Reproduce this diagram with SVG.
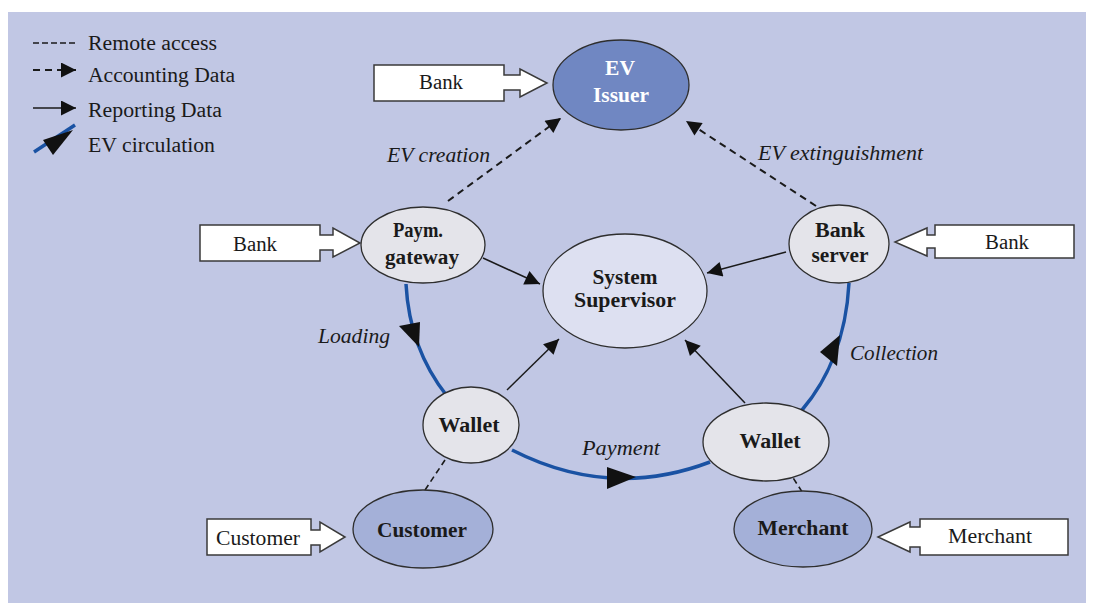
<svg xmlns="http://www.w3.org/2000/svg" width="1093" height="603" viewBox="0 0 1093 603">
  <defs>
    <style>
      text { font-family: 'Liberation Serif', 'DejaVu Serif', serif; font-size: 20px; fill: #1a1a1a; }
      .box { fill: #ffffff; stroke: #3a3a3a; stroke-width: 1.5; }
      .mid { text-anchor: middle; }
      .node { stroke: #2e2e2e; stroke-width: 1.3; }
      .gray { fill: #e4e4ea; }
      .sup { fill: #dde0f1; }
      .issuer { fill: #7087c2; }
      .actor { fill: #a4b0d8; }
      .bold { font-weight: bold; }
      .white { fill: #ffffff; }
      .lbl { font-style: italic; }
      .remote { fill: none; stroke: #1a1a1a; stroke-width: 1.6; stroke-dasharray: 6 4; }
      .acct { fill: none; stroke: #1a1a1a; stroke-width: 2; stroke-dasharray: 7 5; }
      .report { fill: none; stroke: #1a1a1a; stroke-width: 1.5; }
      .circ { fill: none; stroke: #1a52a3; stroke-width: 3.5; }
      .head { fill: #111111; }
    </style>
    <marker id="arrowBig" viewBox="0 0 10 10" refX="10" refY="5" markerWidth="20" markerHeight="15" markerUnits="userSpaceOnUse" orient="auto">
      <path d="M0,0 L10,5 L0,10 Z" fill="#111111"/>
    </marker>
  </defs>

  <!-- panel -->
  <rect x="8" y="12" width="1078" height="591" fill="#c1c7e4"/>

  <!-- legend -->
  <g id="legend" font-family="Liberation Serif, DejaVu Serif, serif">
    <line x1="33" y1="43" x2="76" y2="43" stroke="#1a1a1a" stroke-width="1.6" stroke-dasharray="6 3"/>
    <text x="88" y="50" textLength="129" lengthAdjust="spacingAndGlyphs">Remote access</text>
    <line x1="33" y1="70" x2="76" y2="70" class="acct" stroke-dasharray="6 4" marker-end="url(#arrowBig)"/>
    <text x="88" y="82" textLength="147" lengthAdjust="spacingAndGlyphs">Accounting Data</text>
    <line x1="33" y1="108" x2="76" y2="108" class="report" marker-end="url(#arrowBig)"/>
    <text x="88" y="117" textLength="134" lengthAdjust="spacingAndGlyphs">Reporting Data</text>
    <line x1="34" y1="152" x2="75" y2="125" class="circ"/>
    <polygon class="head" points="43,140 53,155 73,130"/>
    <text x="88" y="152" textLength="127" lengthAdjust="spacingAndGlyphs">EV circulation</text>
  </g>

  <!-- connectors -->
  <g id="connectors">
    <!-- EV circulation -->
    <path class="circ" d="M406,284 C408,322 420,362 447,396"/>
    <path class="circ" d="M512,450 Q610,500 710,462"/>
    <path class="circ" d="M802,410 C826,382 846,340 849,283"/>
    <polygon class="head" points="399,326 420,322 419,347"/>
    <polygon class="head" points="607,467 607,489 636,477"/>
    <polygon class="head" points="840,335 820,352 837,366"/>

    <!-- accounting data -->
    <line class="acct" x1="448" y1="201" x2="561" y2="118" marker-end="url(#arrowBig)"/>
    <line class="acct" x1="816" y1="206" x2="686" y2="121" marker-end="url(#arrowBig)"/>

    <!-- reporting data -->
    <line class="report" x1="483" y1="258" x2="540" y2="284" marker-end="url(#arrowBig)"/>
    <line class="report" x1="786" y1="252" x2="707" y2="273" marker-end="url(#arrowBig)"/>
    <line class="report" x1="507" y1="390" x2="559" y2="339" marker-end="url(#arrowBig)"/>
    <line class="report" x1="745" y1="403" x2="685" y2="340" marker-end="url(#arrowBig)"/>

    <!-- remote access -->
    <line class="remote" x1="445" y1="460" x2="419" y2="499"/>
    <line class="remote" x1="788" y1="470" x2="808" y2="501"/>
  </g>

  <!-- external actors -->
  <g id="bank-top">
    <polygon class="box" points="374,65 504,65 504,75 520,75 520,69 547,83 520,97 520,90 504,90 504,101 374,101"/>
    <text class="mid" x="441" y="89" textLength="44" lengthAdjust="spacingAndGlyphs">Bank</text>
  </g>
  <g id="bank-left">
    <polygon class="box" points="200,225 320,225 320,235 333,235 333,228 360,243 333,257 333,250 320,250 320,261 200,261"/>
    <text class="mid" x="255" y="251" textLength="44" lengthAdjust="spacingAndGlyphs">Bank</text>
  </g>
  <g id="bank-right">
    <polygon class="box" points="1074,225 935,225 935,235 927,235 927,228 895,242 927,256 927,248 935,248 935,258 1074,258"/>
    <text class="mid" x="1007" y="249" textLength="44" lengthAdjust="spacingAndGlyphs">Bank</text>
  </g>
  <g id="customer-box">
    <polygon class="box" points="207,519 311,519 311,530 320,530 320,522 345,537 320,552 320,545 311,545 311,555 207,555"/>
    <text class="mid" x="258" y="545" textLength="84" lengthAdjust="spacingAndGlyphs">Customer</text>
  </g>
  <g id="merchant-box">
    <polygon class="box" points="1068,519 920,519 920,527 910,527 910,522 878,537 910,552 910,547 920,547 920,555 1068,555"/>
    <text class="mid" x="990" y="543" textLength="84" lengthAdjust="spacingAndGlyphs">Merchant</text>
  </g>

  <!-- nodes -->
  <g id="ev-issuer">
    <ellipse class="node issuer" cx="621" cy="85" rx="68" ry="45"/>
    <text class="mid bold white" x="620" y="75" textLength="30" lengthAdjust="spacingAndGlyphs">EV</text>
    <text class="mid bold white" x="621" y="102" textLength="56" lengthAdjust="spacingAndGlyphs">Issuer</text>
  </g>
  <g id="payment-gateway">
    <ellipse class="node gray" cx="423" cy="245" rx="62" ry="38"/>
    <text class="mid bold" x="418" y="237" textLength="50" lengthAdjust="spacingAndGlyphs">Paym.</text>
    <text class="mid bold" x="422" y="264" textLength="74" lengthAdjust="spacingAndGlyphs">gateway</text>
  </g>
  <g id="bank-server">
    <ellipse class="node gray" cx="839" cy="244" rx="50" ry="39"/>
    <text class="mid bold" x="840" y="237" textLength="50" lengthAdjust="spacingAndGlyphs">Bank</text>
    <text class="mid bold" x="840" y="262" textLength="57" lengthAdjust="spacingAndGlyphs">server</text>
  </g>
  <g id="system-supervisor">
    <ellipse class="node sup" cx="625" cy="291" rx="82" ry="57"/>
    <text class="mid bold" x="625" y="284" textLength="65" lengthAdjust="spacingAndGlyphs">System</text>
    <text class="mid bold" x="625" y="307" textLength="102" lengthAdjust="spacingAndGlyphs">Supervisor</text>
  </g>
  <g id="wallet-customer">
    <ellipse class="node gray" cx="471" cy="425" rx="48" ry="38"/>
    <text class="mid bold" x="469" y="432" textLength="61" lengthAdjust="spacingAndGlyphs">Wallet</text>
  </g>
  <g id="wallet-merchant">
    <ellipse class="node gray" cx="766" cy="442" rx="63" ry="39"/>
    <text class="mid bold" x="770" y="448" textLength="61" lengthAdjust="spacingAndGlyphs">Wallet</text>
  </g>
  <g id="customer">
    <ellipse class="node actor" cx="423" cy="529" rx="70" ry="39"/>
    <text class="mid bold" x="422" y="537" textLength="90" lengthAdjust="spacingAndGlyphs">Customer</text>
  </g>
  <g id="merchant">
    <ellipse class="node actor" cx="803" cy="529" rx="69" ry="38"/>
    <text class="mid bold" x="803" y="535" textLength="91" lengthAdjust="spacingAndGlyphs">Merchant</text>
  </g>

  <!-- flow labels -->
  <g id="labels">
    <text class="lbl" x="387" y="162" textLength="103" lengthAdjust="spacingAndGlyphs">EV creation</text>
    <text class="lbl" x="758" y="160" textLength="165" lengthAdjust="spacingAndGlyphs">EV extinguishment</text>
    <text class="lbl" x="318" y="343" textLength="72" lengthAdjust="spacingAndGlyphs">Loading</text>
    <text class="lbl" x="850" y="360" textLength="88" lengthAdjust="spacingAndGlyphs">Collection</text>
    <text class="lbl" x="582" y="455" textLength="78" lengthAdjust="spacingAndGlyphs">Payment</text>
  </g>
</svg>
